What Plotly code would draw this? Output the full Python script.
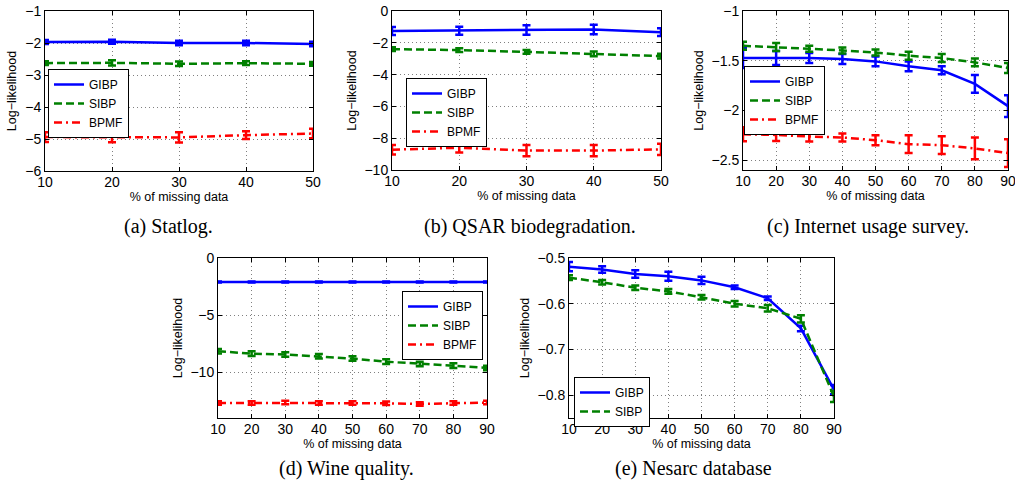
import plotly.graph_objects as go

W, H = 1015, 487

# ---------------- data ----------------
x5 = [10, 20, 30, 40, 50]
x9 = [10, 20, 30, 40, 50, 60, 70, 80, 90]

# (a) Statlog
a_gibp = [-1.97, -1.96, -2.00, -2.00, -2.03]
a_gibp_err = [0.06, 0.06, 0.07, 0.07, 0.07]
a_sibp = [-2.63, -2.62, -2.65, -2.63, -2.65]
a_sibp_err = [0.06, 0.08, 0.07, 0.06, 0.06]
a_bpmf = [-4.94, -4.94, -4.95, -4.88, -4.83]
a_bpmf_err = [0.15, 0.16, 0.16, 0.12, 0.15]

# (b) QSAR biodegradation
b_gibp = [-1.26, -1.24, -1.20, -1.16, -1.33]
b_gibp_err = [0.25, 0.25, 0.30, 0.30, 0.25]
b_sibp = [-2.40, -2.46, -2.57, -2.70, -2.84]
b_sibp_err = [0.12, 0.12, 0.12, 0.15, 0.15]
b_bpmf = [-8.72, -8.60, -8.78, -8.78, -8.70]
b_bpmf_err = [0.30, 0.30, 0.35, 0.35, 0.35]

# (c) Internet usage survey
c_gibp = [-1.473, -1.473, -1.473, -1.483, -1.507, -1.557, -1.597, -1.733, -1.957]
c_gibp_err = [0.10, 0.07, 0.05, 0.05, 0.05, 0.05, 0.04, 0.09, 0.11]
c_sibp = [-1.350, -1.363, -1.380, -1.397, -1.417, -1.450, -1.473, -1.517, -1.573]
c_sibp_err = [0.04, 0.04, 0.03, 0.03, 0.03, 0.04, 0.04, 0.04, 0.05]
c_bpmf = [-2.240, -2.247, -2.263, -2.273, -2.300, -2.340, -2.350, -2.383, -2.430]
c_bpmf_err = [0.07, 0.06, 0.05, 0.04, 0.05, 0.09, 0.09, 0.11, 0.14]

# (d) Wine quality
d_gibp = [-2.1, -2.1, -2.1, -2.1, -2.1, -2.1, -2.1, -2.1, -2.1]
d_gibp_err = [0.05] * 9
d_sibp = [-8.16, -8.37, -8.45, -8.60, -8.80, -9.07, -9.27, -9.42, -9.62]
d_sibp_err = [0.2] * 9
d_bpmf = [-12.68, -12.68, -12.65, -12.68, -12.68, -12.71, -12.77, -12.68, -12.65]
d_bpmf_err = [0.15] * 9

# (e) Nesarc database
e_gibp = [-0.519, -0.525, -0.535, -0.540, -0.549, -0.564, -0.588, -0.654, -0.788]
e_gibp_err = [0.010, 0.007, 0.008, 0.010, 0.008, 0.004, 0.004, 0.006, 0.010]
e_sibp = [-0.543, -0.553, -0.565, -0.573, -0.586, -0.600, -0.610, -0.633, -0.803]
e_sibp_err = [0.005, 0.005, 0.005, 0.005, 0.005, 0.006, 0.007, 0.008, 0.012]

captions = ["(a) Statlog.", "(b) QSAR biodegradation.", "(c) Internet usage survey.",
            "(d) Wine quality.", "(e) Nesarc database"]
names = ["GIBP", "SIBP", "BPMF"]

# ---------------- styles ----------------
BLUE, GREEN, RED = "#0000FF", "#008000", "#FF0000"
styles = {
    "GIBP": dict(color=BLUE, dash="solid"),
    "SIBP": dict(color=GREEN, dash="8px,4px"),
    "BPMF": dict(color=RED, dash="8px,4px,2px,4px"),
}
LW = 2.5
TICKFONT = dict(family="Liberation Sans, Arial, sans-serif", size=14, color="black")
TITLEFONT = dict(family="Liberation Sans, Arial, sans-serif", size=12.5, color="black")


def px(xp):
    return xp / W


def py(yp):
    return 1 - yp / H


# pixel boxes (left, right, top, bottom)
boxes = [
    (45, 313, 11, 171),
    (392, 661, 11, 170),
    (743, 1008, 11, 170),
    (218, 487, 258, 418),
    (569, 834, 258, 418),
]
yranges = [[-6, -1], [-10, 0], [-2.6, -1], [-14, 0], [-0.85, -0.5]]
ydticks = [1, 2, 0.5, 5, 0.1]
xranges = [[10, 50], [10, 50], [10, 90], [10, 90], [10, 90]]
legend_pos = [(48, 69), (406, 78), (744, 66), (402, 291), (574, 377)]
caption_pos = [(168, 226), (530, 226), (868, 226), (346, 468), (693, 468)]

panels = [
    (x5, [(a_gibp, a_gibp_err), (a_sibp, a_sibp_err), (a_bpmf, a_bpmf_err)]),
    (x5, [(b_gibp, b_gibp_err), (b_sibp, b_sibp_err), (b_bpmf, b_bpmf_err)]),
    (x9, [(c_gibp, c_gibp_err), (c_sibp, c_sibp_err), (c_bpmf, c_bpmf_err)]),
    (x9, [(d_gibp, d_gibp_err), (d_sibp, d_sibp_err), (d_bpmf, d_bpmf_err)]),
    (x9, [(e_gibp, e_gibp_err), (e_sibp, e_sibp_err)]),
]

fig = go.Figure()
layout = dict(
    width=W, height=H, autosize=False, margin=dict(l=0, r=0, t=0, b=0, pad=0),
    paper_bgcolor="white", plot_bgcolor="white", annotations=[],
)

for i, (xs, series) in enumerate(panels):
    k = i + 1
    xa = "x" if k == 1 else f"x{k}"
    ya = "y" if k == 1 else f"y{k}"
    lg = "legend" if k == 1 else f"legend{k}"
    for name, (ys, errs) in zip(names, series):
        st = styles[name]
        fig.add_trace(go.Scatter(
            x=xs, y=ys, name=name, mode="lines",
            line=dict(color=st["color"], width=LW, dash=st["dash"]),
            error_y=dict(type="data", array=errs, visible=True,
                         color=st["color"], thickness=2.5, width=4),
            xaxis=xa, yaxis=ya, legend=lg, cliponaxis=True,
        ))
    l, r, t, b = boxes[i]
    axcommon = dict(
        showline=True, linecolor="black", linewidth=1, mirror="ticks",
        ticks="inside", ticklen=4, tickcolor="black",
        showgrid=True, gridcolor="#808080", griddash="1px,3px", gridwidth=1,
        zeroline=False, tickfont=TICKFONT, automargin=False,
        ticklabeloverflow="allow",
    )
    layout["xaxis" if k == 1 else f"xaxis{k}"] = dict(
        axcommon, domain=[px(l), px(r)], range=xranges[i], dtick=10,
        anchor=ya, ticklabelstandoff=-2,
        title=dict(text="% of missing data", font=TITLEFONT, standoff=0),
    )
    layout["yaxis" if k == 1 else f"yaxis{k}"] = dict(
        axcommon, domain=[py(b), py(t)], range=yranges[i], dtick=ydticks[i],
        anchor=xa, title=dict(text="Log\u2212likelihood", font=TITLEFONT, standoff=5),
    )
    lx, ly = legend_pos[i]
    layout[lg] = dict(
        x=px(lx), y=py(ly), xanchor="left", yanchor="top",
        bgcolor="white", bordercolor="black", borderwidth=1,
        font=dict(family="Liberation Sans, Arial, sans-serif", size=12, color="black"),
        tracegroupgap=0, itemwidth=30,
    )
    cx, cy = caption_pos[i]
    layout["annotations"].append(dict(
        text=captions[i], x=px(cx), y=py(cy), xref="paper", yref="paper",
        xanchor="center", yanchor="middle", showarrow=False,
        font=dict(family="Liberation Serif, Times New Roman, serif", size=20, color="black"),
    ))

fig.update_layout(**layout)
# remove the browser's default 8px body margin so the figure fills the window
fig.write_html("out.html", config={"displayModeBar": False},
               post_script="document.body.style.margin='0';")
